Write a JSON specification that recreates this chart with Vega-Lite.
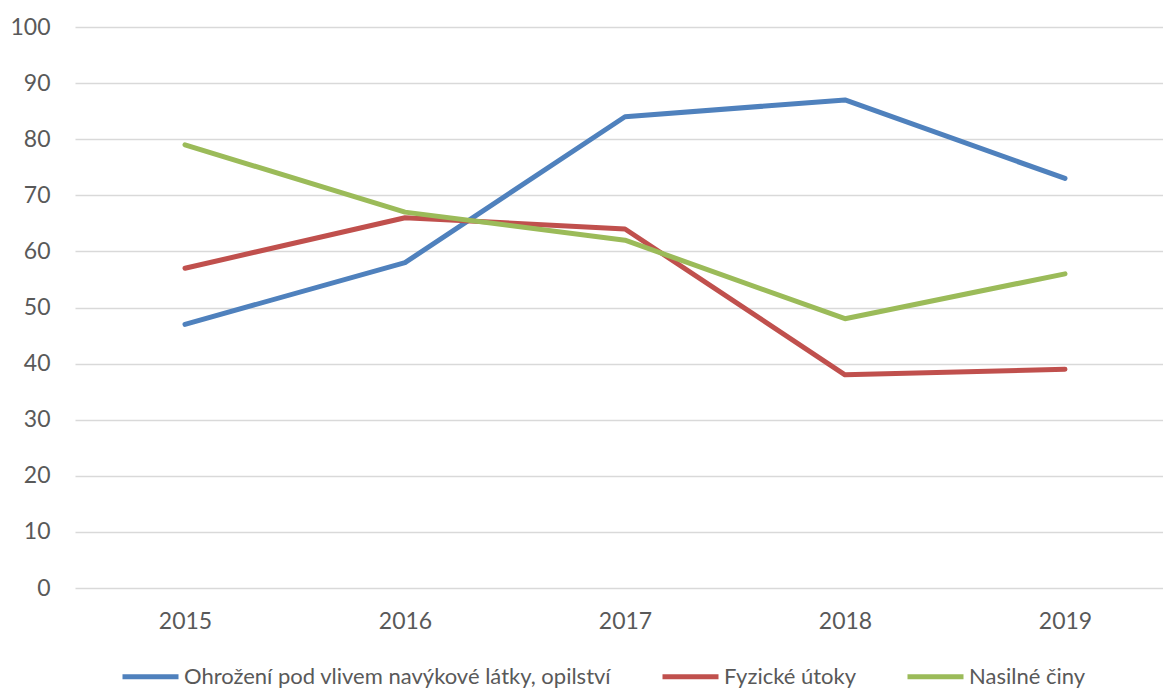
{
  "$schema": "https://vega.github.io/schema/vega-lite/v6.json",
  "width": 1088,
  "height": 561,
  "padding": {"left": 75, "top": 27, "right": 0, "bottom": 101},
  "autosize": {"type": "none"},
  "config": {"view": {"stroke": null}, "font": "Lato"},
  "data": {
    "values": [
      {"rok": 2015, "kategorie": "Ohrožení pod vlivem navýkové látky, opilství", "hodnota": 47},
      {"rok": 2016, "kategorie": "Ohrožení pod vlivem navýkové látky, opilství", "hodnota": 58},
      {"rok": 2017, "kategorie": "Ohrožení pod vlivem navýkové látky, opilství", "hodnota": 84},
      {"rok": 2018, "kategorie": "Ohrožení pod vlivem navýkové látky, opilství", "hodnota": 87},
      {"rok": 2019, "kategorie": "Ohrožení pod vlivem navýkové látky, opilství", "hodnota": 73},
      {"rok": 2015, "kategorie": "Fyzické útoky", "hodnota": 57},
      {"rok": 2016, "kategorie": "Fyzické útoky", "hodnota": 66},
      {"rok": 2017, "kategorie": "Fyzické útoky", "hodnota": 64},
      {"rok": 2018, "kategorie": "Fyzické útoky", "hodnota": 38},
      {"rok": 2019, "kategorie": "Fyzické útoky", "hodnota": 39},
      {"rok": 2015, "kategorie": "Nasilné činy", "hodnota": 79},
      {"rok": 2016, "kategorie": "Nasilné činy", "hodnota": 67},
      {"rok": 2017, "kategorie": "Nasilné činy", "hodnota": 62},
      {"rok": 2018, "kategorie": "Nasilné činy", "hodnota": 48},
      {"rok": 2019, "kategorie": "Nasilné činy", "hodnota": 56}
    ]
  },
  "mark": {"type": "line", "strokeWidth": 5, "strokeCap": "round", "strokeJoin": "round"},
  "encoding": {
    "x": {
      "field": "rok", "type": "quantitative",
      "scale": {"domain": [2014.5, 2019.4455], "nice": false, "zero": false},
      "axis": {"title": null, "values": [2015, 2016, 2017, 2018, 2019], "format": "d", "domain": false, "ticks": false, "grid": false,
               "labelFontSize": 23, "labelColor": "#595959", "labelPadding": 22}
    },
    "y": {
      "field": "hodnota", "type": "quantitative",
      "scale": {"domain": [0, 100]},
      "axis": {"title": null, "values": [0,10,20,30,40,50,60,70,80,90,100], "domain": false, "ticks": false,
               "gridColor": "#d9d9d9", "gridWidth": 1.3, "labelFontSize": 23, "labelColor": "#595959", "labelPadding": 25}
    },
    "color": {
      "field": "kategorie", "type": "nominal",
      "scale": {
        "domain": ["Ohrožení pod vlivem navýkové látky, opilství", "Fyzické útoky", "Nasilné činy"],
        "range": ["#4F81BD", "#C0504D", "#9BBB59"]
      },
      "legend": {
        "title": null, "orient": "none", "direction": "horizontal",
        "legendX": 45, "legendY": 619,
        "symbolType": "stroke", "symbolSize": 3136, "symbolStrokeWidth": 5,
        "labelFontSize": 22, "labelColor": "#595959", "labelOffset": 3,
        "columnPadding": 40, "labelLimit": 600
      }
    }
  }
}
